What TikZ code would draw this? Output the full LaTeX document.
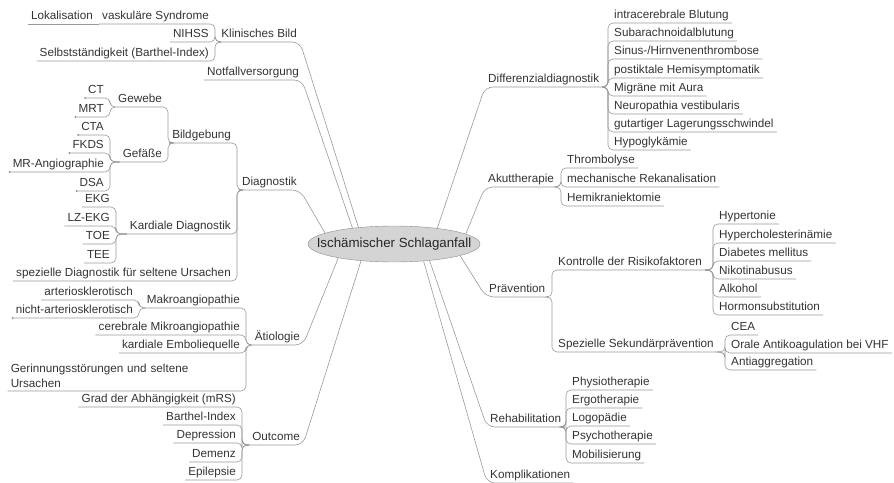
\documentclass[tikz,border=0pt]{standalone}
\usepackage{fontspec}
\setmainfont{Liberation Sans}
\usetikzlibrary{shapes.geometric}
\tikzset{
    topic/.style={font=\fontsize{11.7}{15}\selectfont, text=black!80,
        inner xsep=3pt, inner ysep=1.5pt},
    ltopic/.style={topic, anchor=south east, text height=8.4pt, text depth=2.6pt},
    rtopic/.style={topic, anchor=south west, text height=8.4pt, text depth=2.6pt},
    root/.style={ellipse, draw=black!45, fill=black!17, minimum width=172pt,
        minimum height=36pt, inner xsep=-25pt, inner ysep=0pt,
        font=\fontsize{13.3}{16}\selectfont, text=black!85},
    branch/.style={draw=black!40, line width=0.6pt, rounded corners=5pt},
    mainbranch/.style={branch, rounded corners=8pt},
    enddot/.style={fill=black!45}
}
\begin{document}
\begin{tikzpicture}[x=1pt,y=-1pt]
    \useasboundingbox (0,0) rectangle (894,482);

    \node[root] (root) at (394,244) {Ischämischer Schlaganfall};

    % left side
    \node[ltopic] (kb) at (300,42) {Klinisches Bild};
    \node[ltopic] (vs) at (212,24) {vaskuläre Syndrome};
    \node[ltopic] (lok) at (96,24) {Lokalisation};
    \node[ltopic] (nih) at (212,42) {NIHSS};
    \node[ltopic] (sel) at (212,61) {Selbstständigkeit (Barthel-Index)};

    \node[ltopic] (nv) at (302,80) {Notfallversorgung};

    \node[ltopic] (dia) at (300,190) {Diagnostik};
    \node[ltopic] (bg) at (234,143) {Bildgebung};
    \node[ltopic] (gw) at (165,107) {Gewebe};
    \node[ltopic] (ct) at (107,98) {CT};
    \node[ltopic] (mrt) at (107,117) {MRT};
    \node[ltopic] (gf) at (165,162) {Gefäße};
    \node[ltopic] (cta) at (107,135) {CTA};
    \node[ltopic] (fkds) at (107,153) {FKDS};
    \node[ltopic] (mra) at (107,172) {MR-Angiographie};
    \node[ltopic] (dsa) at (107,191) {DSA};
    \node[ltopic] (kd) at (234,234) {Kardiale Diagnostik};
    \node[ltopic] (ekg) at (113,207) {EKG};
    \node[ltopic] (lzekg) at (113,226) {LZ-EKG};
    \node[ltopic] (toe) at (113,244) {TOE};
    \node[ltopic] (tee) at (113,263) {TEE};
    \node[ltopic] (sdu) at (234,281) {spezielle Diagnostik für seltene Ursachen};

    \node[ltopic] (aet) at (303,345) {Ätiologie};
    \node[ltopic] (mak) at (243,308) {Makroangiopathie};
    \node[ltopic] (art) at (136,300) {arteriosklerotisch};
    \node[ltopic] (nart) at (136,318) {nicht-arteriosklerotisch};
    \node[ltopic] (cmk) at (243,335) {cerebrale Mikroangiopathie};
    \node[ltopic] (kde) at (243,353) {kardiale Emboliequelle};
    \node[topic, anchor=south east, text width=229pt, align=left, inner ysep=3.5pt]
        (ger) at (243,391) {Gerinnungsstörungen und seltene\\Ursachen};

    \node[ltopic] (out) at (303,445) {Outcome};
    \node[ltopic] (grad) at (239,407) {Grad der Abhängigkeit (mRS)};
    \node[ltopic] (bi) at (239,425) {Barthel-Index};
    \node[ltopic] (dep) at (239,443) {Depression};
    \node[ltopic] (dem) at (239,462) {Demenz};
    \node[ltopic] (epi) at (239,480) {Epilepsie};

    % right side
    \node[rtopic] (dd) at (485,87) {Differenzialdiagnostik};
    \node[rtopic] (icb) at (611,23) {intracerebrale Blutung};
    \node[rtopic] (sab) at (611,41) {Subarachnoidalblutung};
    \node[rtopic] (svt) at (611,59) {Sinus-/Hirnvenenthrombose};
    \node[rtopic] (phs) at (611,78) {postiktale Hemisymptomatik};
    \node[rtopic] (mig) at (611,96) {Migräne mit Aura};
    \node[rtopic] (nvs) at (611,114) {Neuropathia vestibularis};
    \node[rtopic] (gls) at (611,132) {gutartiger Lagerungsschwindel};
    \node[rtopic] (hyg) at (611,150) {Hypoglykämie};

    \node[rtopic] (ak) at (485,187) {Akuttherapie};
    \node[rtopic] (thr) at (564,168) {Thrombolyse};
    \node[rtopic] (mech) at (564,187) {mechanische Rekanalisation};
    \node[rtopic] (hemi) at (564,206) {Hemikraniektomie};

    \node[rtopic] (pr) at (486,297) {Prävention};
    \node[rtopic] (kr) at (555,270) {Kontrolle der Risikofaktoren};
    \node[rtopic] (hyp) at (716,224) {Hypertonie};
    \node[rtopic] (hch) at (716,243) {Hypercholesterinämie};
    \node[rtopic] (dm) at (716,261) {Diabetes mellitus};
    \node[rtopic] (nik) at (716,279) {Nikotinabusus};
    \node[rtopic] (alk) at (716,297) {Alkohol};
    \node[rtopic] (hrm) at (716,315) {Hormonsubstitution};
    \node[rtopic] (ssp) at (555,352) {Spezielle Sekundärprävention};
    \node[rtopic] (cea) at (728,335) {CEA};
    \node[rtopic] (oak) at (728,353) {Orale Antikoagulation bei VHF};
    \node[rtopic] (agg) at (728,370) {Antiaggregation};

    \node[rtopic] (reh) at (487,427) {Rehabilitation};
    \node[rtopic] (phy) at (569,390) {Physiotherapie};
    \node[rtopic] (erg) at (569,408) {Ergotherapie};
    \node[rtopic] (log) at (569,426) {Logopädie};
    \node[rtopic] (psy) at (569,444) {Psychotherapie};
    \node[rtopic] (mob) at (569,463) {Mobilisierung};

    \node[rtopic] (kom) at (487,483) {Komplikationen};

    % main branches
    \draw[mainbranch] (root.155) -- (kb.south east) -- (kb.south west);
    \draw[mainbranch] (root.159) -- (nv.south east) -- (nv.south west);
    \draw[mainbranch] (root.171) -- (dia.south east) -- (dia.south west);
    \draw[mainbranch] (root.194) -- (aet.south east) -- (aet.south west);
    \draw[mainbranch] (root.207) -- (out.south east) -- (out.south west);
    \draw[mainbranch] (root.20) -- (dd.south west) -- (dd.south east);
    \draw[mainbranch] (root.8) -- (ak.south west) -- (ak.south east);
    \draw[mainbranch] (root.-10) -- (pr.south west) -- (pr.south east);
    \draw[mainbranch] (root.-25) -- (reh.south west) -- (reh.south east);
    \draw[mainbranch] (root.-30) -- (kom.south west) -- (kom.south east);

    % sub branches, left
    \foreach \c in {vs,nih,sel}
        \draw[branch] (kb.south west) -| ([xshift=3pt]\c.south east) -- (\c.south west);
    \draw[branch] (vs.south west) -- (lok.south west);
    \foreach \c in {bg,kd,sdu}
        \draw[branch] (dia.south west) -| ([xshift=3pt]\c.south east) -- (\c.south west);
    \foreach \c in {gw,gf}
        \draw[branch] (bg.south west) -| ([xshift=3pt]\c.south east) -- (\c.south west);
    \foreach \c in {ct,mrt}
        \draw[branch] (gw.south west) -| ([xshift=3pt]\c.south east) -- (\c.south west);
    \foreach \c in {cta,fkds,mra,dsa}
        \draw[branch] (gf.south west) -| ([xshift=3pt]\c.south east) -- (\c.south west);
    \foreach \c in {ekg,lzekg,toe,tee}
        \draw[branch] (kd.south west) -| ([xshift=3pt]\c.south east) -- (\c.south west);
    \foreach \c in {mak,cmk,kde,ger}
        \draw[branch] (aet.south west) -| ([xshift=3pt]\c.south east) -- (\c.south west);
    \foreach \c in {art,nart}
        \draw[branch] (mak.south west) -| ([xshift=3pt]\c.south east) -- (\c.south west);
    \foreach \c in {grad,bi,dep,dem,epi}
        \draw[branch] (out.south west) -| ([xshift=3pt]\c.south east) -- (\c.south west);

    % sub branches, right
    \foreach \c in {icb,sab,svt,phs,mig,nvs,gls,hyg}
        \draw[branch] (dd.south east) -| ([xshift=-3pt]\c.south west) -- (\c.south east);
    \foreach \c in {thr,mech,hemi}
        \draw[branch] (ak.south east) -| ([xshift=-3pt]\c.south west) -- (\c.south east);
    \foreach \c in {kr,ssp}
        \draw[branch] (pr.south east) -| ([xshift=-3pt]\c.south west) -- (\c.south east);
    \foreach \c in {hyp,hch,dm,nik,alk,hrm}
        \draw[branch] (kr.south east) -| ([xshift=-3pt]\c.south west) -- (\c.south east);
    \foreach \c in {cea,oak,agg}
        \draw[branch] (ssp.south east) -| ([xshift=-3pt]\c.south west) -- (\c.south east);
    \foreach \c in {phy,erg,log,psy,mob}
        \draw[branch] (reh.south east) -| ([xshift=-3pt]\c.south west) -- (\c.south east);

    % end dots
    \foreach \c in {ct,mrt,cta,fkds,mra,dsa,nart}
        \fill[enddot] (\c.south west) circle (1pt);
\end{tikzpicture}
\end{document}
